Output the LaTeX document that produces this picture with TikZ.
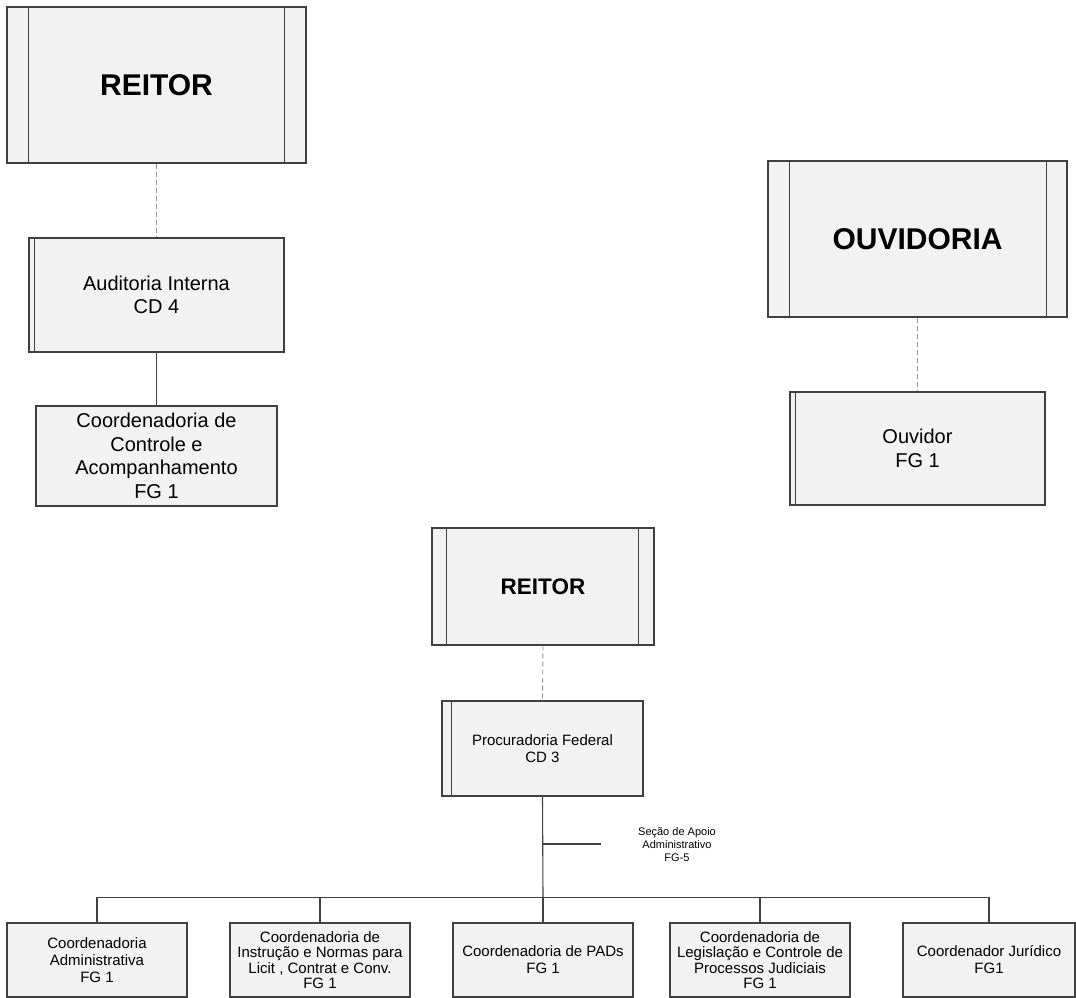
\documentclass[tikz,border=0pt]{standalone}
\usepackage{fontspec}
\setmainfont{Liberation Sans}
\definecolor{boxfill}{RGB}{242,242,242}
\definecolor{boxline}{RGB}{64,64,64}
\definecolor{dashline}{RGB}{150,150,150}
\begin{document}
\begin{tikzpicture}[x=1pt,y=-1pt,
  box/.style={draw=boxline, fill=boxfill, line width=1.1pt, rectangle, inner sep=0pt, align=center},
  innerline/.style={draw=boxline, line width=1.1pt},
  conn/.style={draw=boxline, line width=1.1pt},
  dconn/.style={draw=dashline, line width=0.9pt, dash pattern=on 5pt off 3pt},
  big/.style={font=\fontsize{30}{34}\selectfont\bfseries},
  mid/.style={font=\fontsize{22.5}{26}\selectfont\bfseries},
  txt/.style={font=\fontsize{20}{23.5}\selectfont},
  stxt/.style={font=\fontsize{15}{17}\selectfont},
  s4txt/.style={font=\fontsize{15}{15.5}\selectfont},
  tiny/.style={font=\fontsize{11}{13}\selectfont, align=center, inner sep=0pt}]
\useasboundingbox (0,0) rectangle (1076,998);

% Top-left REITOR
\node[box, big, minimum width=299pt, minimum height=156pt] (reitorA) at (156.5,85) {REITOR};
\draw[innerline] ([xshift=22pt]reitorA.north west) -- ([xshift=22pt]reitorA.south west);
\draw[innerline] ([xshift=-22pt]reitorA.north east) -- ([xshift=-22pt]reitorA.south east);

% Auditoria Interna
\node[box, txt, minimum width=255pt, minimum height=114pt] (audit) at (156.5,295) {Auditoria Interna\\CD 4};
\draw[innerline] ([xshift=6pt]audit.north west) -- ([xshift=6pt]audit.south west);

% Coordenadoria de Controle
\node[box, txt, minimum width=241pt, minimum height=100pt] (ccont) at (156.5,456) {Coordenadoria de\\Controle e\\Acompanhamento\\FG 1};

\draw[dconn] (reitorA.south) -- (audit.north);
\draw[conn] (audit.south) -- (ccont.north);

% OUVIDORIA
\node[box, big, minimum width=299pt, minimum height=156pt] (ouvid) at (917.5,239) {OUVIDORIA};
\draw[innerline] ([xshift=22pt]ouvid.north west) -- ([xshift=22pt]ouvid.south west);
\draw[innerline] ([xshift=-21pt]ouvid.north east) -- ([xshift=-21pt]ouvid.south east);

% Ouvidor
\node[box, txt, minimum width=255pt, minimum height=113pt] (ouvidor) at (917.5,448.5) {Ouvidor\\FG 1};
\draw[innerline] ([xshift=6pt]ouvidor.north west) -- ([xshift=6pt]ouvidor.south west);

\draw[dconn] (ouvid.south) -- (ouvidor.north);

% Middle REITOR
\node[box, mid, minimum width=222pt, minimum height=117pt] (reitorB) at (543,586.5) {REITOR};
\draw[innerline] ([xshift=15pt]reitorB.north west) -- ([xshift=15pt]reitorB.south west);
\draw[innerline] ([xshift=-16pt]reitorB.north east) -- ([xshift=-16pt]reitorB.south east);

% Procuradoria Federal
\node[box, stxt, minimum width=201pt, minimum height=95pt] (proc) at (542.5,748.5) {Procuradoria Federal\\CD 3};
\draw[innerline] ([xshift=10pt]proc.north west) -- ([xshift=10pt]proc.south west);

\draw[dconn] (reitorB.south) -- (proc.north);

% Secao de Apoio
\node[tiny] (secao) at (677,845) {Seção de Apoio\\Administrativo\\FG-5};
\coordinate (secJ) at (543,844);
\coordinate (secE) at (601,844);
\draw[conn] (secJ) -- (secE);

% Bottom boxes
\node[box, stxt, minimum width=180pt, minimum height=74pt] (cadm) at (97,960) {Coordenadoria\\Administrativa\\FG 1};
\node[box, s4txt, minimum width=180pt, minimum height=74pt] (cins) at (320,960) {Coordenadoria de\\Instrução e Normas para\\Licit , Contrat e Conv.\\FG 1};
\node[box, stxt, minimum width=180pt, minimum height=74pt] (cpad) at (543,960) {Coordenadoria de PADs\\FG 1};
\node[box, s4txt, minimum width=180pt, minimum height=74pt] (cleg) at (760,960) {Coordenadoria de\\Legislação e Controle de\\Processos Judiciais\\FG 1};
\node[box, stxt, minimum width=172pt, minimum height=74pt] (cjur) at (989,960) {Coordenador Jurídico\\FG1};

\coordinate (bus) at (543,898);
\draw[conn] (proc.south) -- (bus);
\draw[conn] (cadm.north) -- ++(0,-25) -| (cjur.north);
\draw[conn] (cins.north) -- ++(0,-25);
\draw[conn] (cpad.north) -- ++(0,-25);
\draw[conn] (cleg.north) -- ++(0,-25);
\end{tikzpicture}
\end{document}
